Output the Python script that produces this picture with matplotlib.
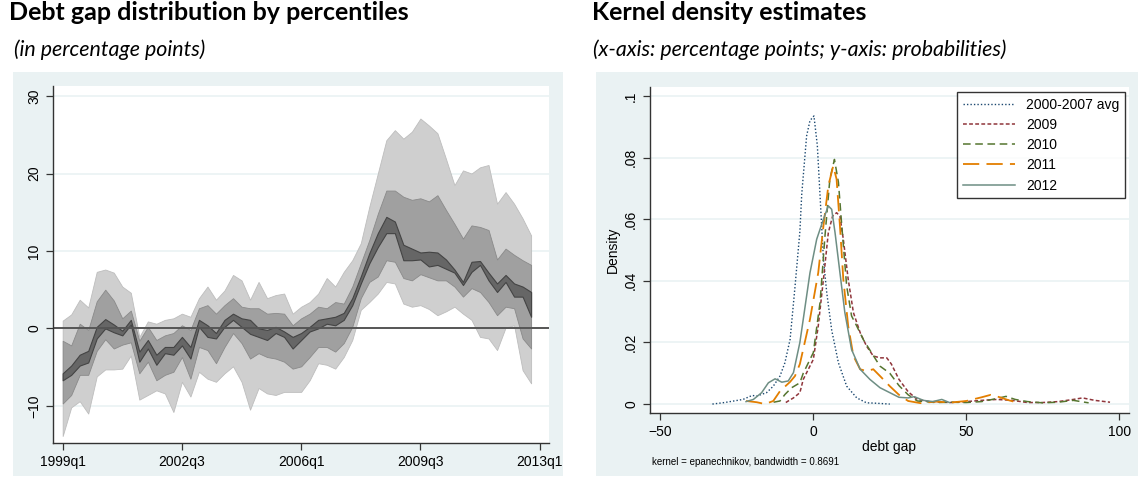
import matplotlib
matplotlib.use("Agg")
import matplotlib.pyplot as plt
from matplotlib.patches import Rectangle
import numpy as np

# ---- left panel: debt gap percentiles by quarter (1999q1 .. 2012q4) ----
quarter_ticks = [0, 14, 28, 42, 56]
quarter_labels = ["1999q1", "2002q3", "2006q1", "2009q3", "2013q1"]

p_hi_outer = [1.0, 1.8, 3.7, 2.7, 7.3, 7.6, 7.2, 5.4, 4.6, -1.1, 0.9, 0.6, 1.1, 1.3, 1.9, 1.5,
              3.9, 5.4, 3.7, 4.9, 6.9, 6.2, 3.7, 6.0, 3.9, 4.3, 4.5, 1.9, 2.8, 3.4, 4.5, 6.5,
              5.4, 7.3, 8.8, 11.0, 15.7, 20.0, 24.3, 25.6, 24.5, 25.4, 27.1, 26.2, 25.2, 21.9,
              18.5, 20.4, 20.0, 20.8, 21.1, 16.1, 17.6, 16.1, 14.2, 12.0]
p_hi_mid = [-1.6, -2.2, 0.6, -0.2, 3.5, 5.0, 3.6, 1.3, 2.3, -1.6, 0.2, -1.5, -0.9, -0.6, 0.4, -0.2,
            2.6, 3.0, 1.9, 3.0, 3.9, 2.8, 2.6, 2.6, 1.9, 2.0, 1.9, 0.4, 1.3, 1.9, 2.8, 2.6,
            3.4, 3.2, 5.4, 8.4, 11.4, 14.8, 17.8, 17.8, 17.0, 16.6, 16.8, 16.4, 17.2, 15.3,
            13.5, 11.6, 13.3, 13.1, 12.7, 8.9, 10.3, 9.5, 8.8, 8.2]
p_hi_in = [-5.8, -4.8, -3.4, -2.9, 0.2, 1.2, 0.5, -0.3, 1.1, -3.0, -1.5, -3.4, -2.4, -2.4, -1.1, -2.4,
           1.1, 0.4, -0.6, 1.1, 1.9, 1.3, 1.1, 0.0, -0.2, 0.2, -0.4, -1.1, -0.6, 0.2, 1.1, 1.3,
           1.5, 2.0, 3.9, 6.7, 9.7, 12.3, 14.4, 13.8, 10.8, 10.3, 9.8, 9.9, 9.8, 8.9,
           7.6, 6.0, 8.6, 8.7, 7.2, 5.8, 6.9, 5.8, 5.4, 4.7]
p_lo_in = [-6.7, -6.0, -4.8, -4.4, -1.3, 0.0, -0.5, -0.9, 0.5, -4.3, -2.6, -4.7, -3.2, -3.4, -2.2, -3.9,
           0.2, -1.1, -1.3, 0.2, 1.1, 0.2, -0.7, -1.1, -1.5, -0.6, -1.1, -2.6, -1.5, -0.4, 0.0, 0.6,
           0.4, 1.1, 3.0, 5.8, 8.4, 10.5, 12.3, 12.3, 8.8, 8.8, 8.9, 8.0, 8.2, 7.7,
           7.2, 5.6, 7.3, 8.2, 6.2, 4.7, 6.0, 4.1, 4.1, 1.5]
p_lo_mid = [-9.7, -8.6, -6.0, -6.0, -2.9, -1.4, -2.6, -2.1, -1.8, -5.8, -4.3, -6.7, -6.0, -5.6, -3.7, -6.5,
            -2.4, -2.8, -4.5, -2.4, -0.6, -1.9, -3.9, -3.2, -3.7, -3.9, -4.3, -5.2, -4.9, -3.7, -2.4, -2.4,
            -3.0, -1.9, 0.2, 3.9, 6.0, 6.7, 8.8, 8.6, 6.5, 6.2, 7.0, 6.6, 6.2, 6.2,
            5.4, 4.1, 5.2, 4.7, 3.4, 1.7, 2.8, 2.6, -1.3, -2.6]
p_lo_outer = [-13.9, -10.2, -9.4, -11.0, -6.2, -5.3, -5.3, -5.2, -3.5, -9.2, -8.6, -8.0, -8.4, -10.8, -6.9, -8.8,
              -5.6, -6.5, -6.9, -5.8, -4.9, -6.9, -10.5, -7.7, -8.4, -8.6, -8.2, -8.2, -8.2, -6.7, -4.5, -4.7,
              -5.2, -3.7, -1.5, 2.4, 3.4, 4.5, 6.0, 5.8, 3.2, 2.8, 3.0, 2.5, 1.7, 2.2,
              2.8, 1.9, 1.1, -1.1, -1.3, -2.8, 0.1, 0.4, -5.4, -7.1]

# ---- right panel: kernel density estimates of the debt gap ----
avg_x = [-33, -29, -26, -23, -20, -18.5, -15.3, -13.1, -10.9, -9.3, -7.6, -6, -4.4, -3.8, -2.2,
         -1.1, 0.2, 1.3, 2.2, 3.3, 4.4, 6, 8.2, 10.9, 14.2, 17.4, 20, 25]
avg_y = [0, 0.0005, 0.001, 0.0015, 0.0028, 0.0026, 0.0037, 0.0058, 0.0091, 0.0134, 0.021, 0.038,
         0.056, 0.068, 0.087, 0.092, 0.0935, 0.084, 0.0675, 0.047, 0.036, 0.024, 0.0134, 0.0058,
         0.002, 0.0004, 0.0003, 0.0]

y09_x = [-9, -8.2, -6.5, -4.4, -3.3, 0, 1.6, 3.3, 4.9, 6.3, 7.6, 8.7, 9.8, 11.4, 13.1, 15.3, 17.4,
         19.6, 21.8, 24, 25.5, 28, 31, 34, 38, 45, 50, 55, 60, 65, 70, 75, 80, 85, 88, 92, 97]
y09_y = [0.0005, 0.001, 0.002, 0.0037, 0.008, 0.0145, 0.0253, 0.0405, 0.0556, 0.061, 0.0621, 0.061,
         0.0535, 0.0405, 0.0297, 0.0232, 0.0188, 0.0156, 0.015, 0.015, 0.013, 0.008, 0.004, 0.0015,
         0.0008, 0.0005, 0.0008, 0.0012, 0.0015, 0.0012, 0.0005, 0.0005, 0.0008, 0.0015, 0.002,
         0.0012, 0.0006]

y10_x = [-13, -10.9, -9.3, -7.1, -4.4, -3.3, 0, 2.2, 3.8, 5.4, 6.9, 8.2, 9.3, 10.9, 12.5, 14.2,
         16.3, 19, 21.8, 25, 28, 31, 34, 40, 45, 50, 55, 60, 63, 66, 70, 75, 80, 85, 90]
y10_y = [0.0006, 0.001, 0.0031, 0.0053, 0.0069, 0.01, 0.0167, 0.033, 0.0545, 0.073, 0.0794, 0.072,
         0.0578, 0.0383, 0.0286, 0.0253, 0.021, 0.0167, 0.0123, 0.01, 0.006, 0.003, 0.001, 0.0005,
         0.0006, 0.0005, 0.0008, 0.0018, 0.0025, 0.0015, 0.0008, 0.0004, 0.0006, 0.0012, 0.0004]

y11_x = [-22, -18.5, -15.8, -13.1, -10.9, -7.6, -6, -4.4, -1.1, 1.6, 3.3, 4.9, 6.5, 7.6, 8.7, 9.8,
         11.4, 13.1, 15.3, 17.4, 19.6, 21.8, 25, 28, 31, 35, 40, 45, 50, 55, 58, 61, 64, 67]
y11_y = [0.001, 0.0006, 0, 0.001, 0.0042, 0.0072, 0.0091, 0.013, 0.0275, 0.0426, 0.0578, 0.0708,
         0.0773, 0.073, 0.0578, 0.0405, 0.0253, 0.0156, 0.0113, 0.0107, 0.0113, 0.0091, 0.0058,
         0.003, 0.001, 0.0003, 0.0008, 0.0005, 0.001, 0.0022, 0.003, 0.0022, 0.0012, 0.0004]

y12_x = [-22, -19.6, -16.9, -14.7, -12.5, -10.3, -8.2, -6.5, -4.4, -3.3, -1.1, 1.1, 3.3, 4.9, 6,
         7.1, 8.7, 10.3, 12.5, 15.3, 18.5, 21.8, 25, 28, 31, 33, 36, 39, 42, 44.5]
y12_y = [0.0008, 0.0015, 0.0037, 0.0069, 0.0082, 0.0071, 0.0075, 0.0102, 0.02, 0.0275, 0.0426,
         0.0535, 0.060, 0.0643, 0.0632, 0.0556, 0.0426, 0.0297, 0.0177, 0.0113, 0.008, 0.0053,
         0.0037, 0.0022, 0.002, 0.0024, 0.0012, 0.0008, 0.0015, 0.0005]

kde_labels = ["2000-2007 avg", "2009", "2010", "2011", "2012"]

BG = "#eaf2f3"
W, H = 1138, 480

plt.rcParams["font.family"] = ["Liberation Sans", "DejaVu Sans"]
fig = plt.figure(figsize=(W / 100, H / 100), dpi=100)


def fx(px):
    return px / W


def fy(py):
    return 1 - py / H


# panel backgrounds, kept behind the axes
for left, width in [(13, 550), (596, 542)]:
    fig.patches.append(Rectangle((fx(left), fy(476)), fx(width), 404 / H, transform=fig.transFigure,
                                 facecolor=BG, edgecolor="none", zorder=-10))

# titles
fig.text(fx(9), fy(1), "Debt gap distribution by percentiles", family="Lato", weight="bold",
         fontsize=18, va="top", ha="left")
fig.text(fx(14), fy(39), "(in percentage points)", family="Lato", style="italic",
         fontsize=15.4, va="top", ha="left")
fig.text(fx(592), fy(1), "Kernel density estimates", family="Lato", weight="bold",
         fontsize=18, va="top", ha="left")
fig.text(fx(593), fy(39), "(x-axis: percentage points; y-axis: probabilities)", family="Lato",
         style="italic", fontsize=15.4, va="top", ha="left")


def style_axes(ax):
    for s in ["top", "right"]:
        ax.spines[s].set_visible(False)
    for s in ["left", "bottom"]:
        ax.spines[s].set_color("#333333")
        ax.spines[s].set_linewidth(1.0)
    ax.tick_params(direction="out", length=5, width=0.9, color="#333333", labelsize=10)
    ax.grid(axis="y", color=BG, linewidth=1.2)
    ax.set_axisbelow(True)


# ---- left chart ----
ax1 = fig.add_axes([fx(53.3), fy(443.3), fx(495.7), 357.3 / H])
style_axes(ax1)
q = np.arange(len(p_hi_outer))
ax1.fill_between(q, p_lo_outer, p_hi_outer, facecolor="#cfcfcf", edgecolor="#bdbdbd", linewidth=0.6)
ax1.fill_between(q, p_lo_mid, p_hi_mid, facecolor="#a0a0a0", edgecolor="#8a8a8a", linewidth=0.6)
ax1.fill_between(q, p_lo_in, p_hi_in, facecolor="#666666", edgecolor="#444444", linewidth=0.8)
ax1.axhline(0, color="#555555", linewidth=1.4)
ax1.set_xlim(-1.1, 57.1)
ax1.set_ylim(-14.84, 31.3)
ax1.set_yticks([-10, 0, 10, 20, 30])
ax1.set_xticks(quarter_ticks)
ax1.set_xticklabels(quarter_labels)
for lbl in ax1.get_yticklabels():
    lbl.set_rotation(90)
    lbl.set_va("center")

# ---- right chart ----
ax2 = fig.add_axes([fx(650), fy(413), fx(479), 326.3 / H])
style_axes(ax2)
ax2.plot(avg_x, avg_y, color="#1a476f", linestyle=(0, (1, 1.5)), linewidth=1.0, label=kde_labels[0])
ax2.plot(y09_x, y09_y, color="#90353b", linestyle=(0, (2.5, 1.5)), linewidth=1.1, label=kde_labels[1])
ax2.plot(y10_x, y10_y, color="#55752f", linestyle=(0, (5, 3)), linewidth=1.1, label=kde_labels[2])
ax2.plot(y11_x, y11_y, color="#e37e00", linestyle=(0, (9, 4)), linewidth=1.3, label=kde_labels[3])
ax2.plot(y12_x, y12_y, color="#6e8e84", linestyle="-", linewidth=1.1, label=kde_labels[4])
ax2.set_xlim(-53.4, 103.2)
ax2.set_ylim(-0.0029, 0.1030)
ax2.set_xticks([-50, 0, 50, 100])
ax2.set_yticks([0, 0.02, 0.04, 0.06, 0.08, 0.1])
ax2.set_yticklabels(["0", ".02", ".04", ".06", ".08", ".1"])
for lbl in ax2.get_yticklabels():
    lbl.set_rotation(90)
    lbl.set_va("center")
ax2.set_xlabel("debt gap", fontsize=10, labelpad=1)
ax2.set_ylabel("Density", fontsize=10, labelpad=3)
fig.text(fx(652), fy(462), "kernel = epanechnikov, bandwidth = 0.8691", fontsize=7,
         va="center", ha="left")

leg = ax2.legend(loc="upper left", bbox_to_anchor=(fx(957), fy(92)), bbox_transform=fig.transFigure,
                 fontsize=10, frameon=True, fancybox=False, handlelength=3.8, labelspacing=0.45,
                 borderpad=0.4, handletextpad=0.8, borderaxespad=0)
leg.get_frame().set_edgecolor("black")
leg.get_frame().set_linewidth(1.0)
leg.get_frame().set_facecolor("white")

fig.savefig("out.png", dpi=100)
